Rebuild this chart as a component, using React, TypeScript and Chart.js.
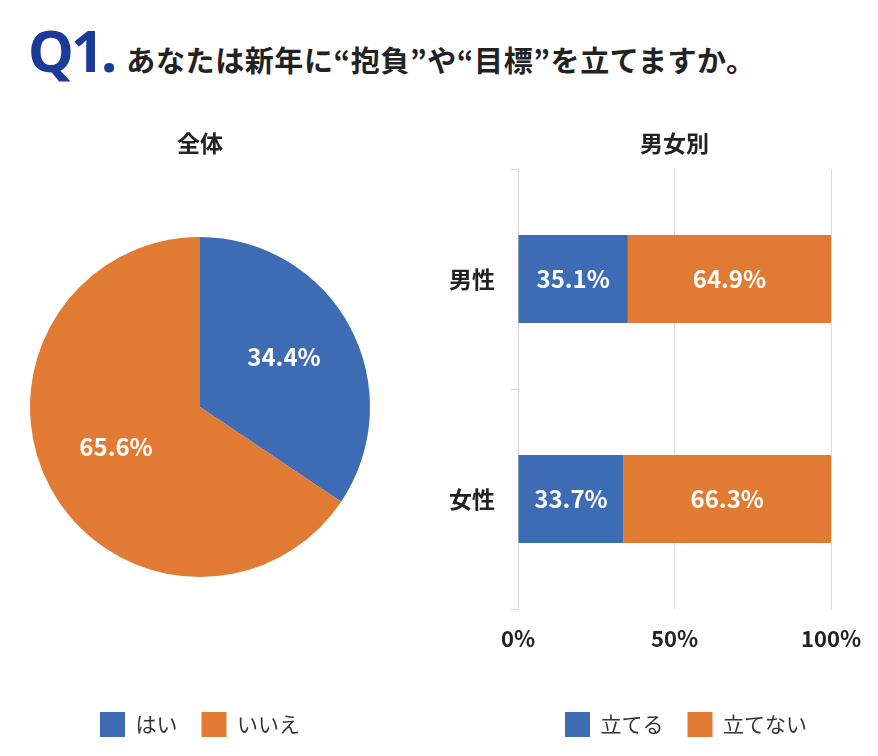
import React, { useEffect, useRef } from 'react';
import { Chart, registerables } from 'chart.js';

Chart.register(...registerables);

const pieLabels = ['はい', 'いいえ'];
const pieValues = [34.4, 65.6];
const barCategories = ['男性', '女性'];
const seriesNames = ['立てる', '立てない'];
const tateruValues = [35.1, 33.7];
const tatenaiValues = [64.9, 66.3];
const xTickValues = [0, 50, 100];

const BLUE = '#3E6CB4';
const ORANGE = '#E17B34';
const FONT = '"Noto Sans CJK JP", "Noto Sans", sans-serif';

const pieLabelPlugin = {
  id: 'pieLabels',
  afterDatasetsDraw(chart: any) {
    const ctx = chart.ctx;
    const meta = chart.getDatasetMeta(0);
    ctx.save();
    ctx.fillStyle = '#ffffff';
    ctx.font = `bold 24px ${FONT}`;
    ctx.textAlign = 'center';
    ctx.textBaseline = 'middle';
    meta.data.forEach((arc: any, i: number) => {
      const p = arc.getProps(['x', 'y', 'startAngle', 'endAngle', 'outerRadius'], true);
      const mid = (p.startAngle + p.endAngle) / 2;
      const r = p.outerRadius * 0.56;
      ctx.fillText(pieValues[i].toFixed(1) + '%', p.x + Math.cos(mid) * r, p.y + Math.sin(mid) * r - 5);
    });
    ctx.restore();
  },
};

const barLabelPlugin = {
  id: 'barLabels',
  afterDatasetsDraw(chart: any) {
    const ctx = chart.ctx;
    ctx.save();
    ctx.fillStyle = '#ffffff';
    ctx.font = `bold 24px ${FONT}`;
    ctx.textAlign = 'center';
    ctx.textBaseline = 'middle';
    chart.data.datasets.forEach((ds: any, di: number) => {
      const meta = chart.getDatasetMeta(di);
      meta.data.forEach((bar: any, i: number) => {
        const p = bar.getProps(['x', 'y', 'base'], true);
        ctx.fillText(Number(ds.data[i]).toFixed(1) + '%', (p.x + p.base) / 2, p.y);
      });
    });
    ctx.restore();
  },
};

const titleFont = { family: FONT, size: 23, weight: 'bold' as const };
const legendLabels = {
  font: { family: FONT, size: 21 },
  color: '#333333',
  boxWidth: 25,
  boxHeight: 25,
  padding: 24,
};

export default function App() {
  const pieRef = useRef<HTMLCanvasElement>(null);
  const barRef = useRef<HTMLCanvasElement>(null);

  useEffect(() => {
    const pie = new Chart(pieRef.current as HTMLCanvasElement, {
      type: 'pie',
      data: {
        labels: pieLabels,
        datasets: [
          {
            data: pieValues,
            backgroundColor: [BLUE, ORANGE],
            borderWidth: 0,
          },
        ],
      },
      options: {
        responsive: false,
        animation: false,
        layout: { padding: { left: 30, right: 30, top: 0, bottom: 0 } },
        plugins: {
          title: {
            display: true,
            text: '全体',
            color: '#222222',
            font: titleFont,
            padding: { top: 29.2, bottom: 80.2 },
          },
          legend: {
            position: 'bottom',
            labels: legendLabels,
            title: {
              display: true,
              text: ' ',
              font: { size: 1, lineHeight: 1 },
              padding: { top: 110, bottom: 0 },
            },
          },
          tooltip: { enabled: false },
        },
      },
      plugins: [pieLabelPlugin],
    } as any);

    const bar = new Chart(barRef.current as HTMLCanvasElement, {
      type: 'bar',
      data: {
        labels: barCategories,
        datasets: [
          { label: seriesNames[0], data: tateruValues, backgroundColor: BLUE, borderWidth: 0 },
          { label: seriesNames[1], data: tatenaiValues, backgroundColor: ORANGE, borderWidth: 0 },
        ],
      },
      options: {
        indexAxis: 'y',
        responsive: false,
        animation: false,
        datasets: { bar: { categoryPercentage: 0.8, barPercentage: 0.5 } },
        layout: { padding: { left: 0, right: 47, top: 0, bottom: 0 } },
        scales: {
          x: {
            stacked: true,
            min: 0,
            max: 100,
            afterBuildTicks(scale: any) {
              scale.ticks = xTickValues.map((v) => ({ value: v }));
            },
            afterFit(scale: any) {
              scale.height = 42;
            },
            border: { display: false },
            grid: { color: '#dcdcdc', drawTicks: false, lineWidth: 1 },
            ticks: {
              padding: 16,
              color: '#222222',
              font: { family: FONT, size: 22, weight: 'bold' },
              callback: (v: any) => v + '%',
            },
          },
          y: {
            stacked: true,
            afterFit(scale: any) {
              scale.width = 98;
            },
            border: { display: true, color: '#d6d6d6' },
            grid: { drawOnChartArea: false, drawTicks: true, tickLength: 7, color: '#d6d6d6' },
            ticks: {
              padding: 16,
              color: '#222222',
              font: { family: FONT, size: 23, weight: 'bold' },
            },
          },
        },
        plugins: {
          title: {
            display: true,
            fullSize: false,
            text: '男女別',
            color: '#222222',
            font: titleFont,
            padding: { top: 29.2, bottom: 12.2 },
          },
          legend: {
            position: 'bottom',
            align: 'end',
            labels: legendLabels,
            title: {
              display: true,
              text: ' ',
              font: { size: 1, lineHeight: 1 },
              padding: { top: 36, bottom: 0 },
            },
          },
          tooltip: { enabled: false },
        },
      },
      plugins: [barLabelPlugin],
    } as any);

    return () => {
      pie.destroy();
      bar.destroy();
    };
  }, []);

  return (
    <div
      style={{
        position: 'fixed',
        left: 0,
        top: 0,
        width: 878,
        height: 756,
        background: '#ffffff',
        overflow: 'hidden',
      }}
    >
      <div
        style={{
          position: 'absolute',
          left: 28,
          top: 10,
          display: 'flex',
          alignItems: 'baseline',
          whiteSpace: 'nowrap',
        }}
      >
        <span
          style={{
            fontFamily: '"Noto Sans", sans-serif',
            fontWeight: 700,
            fontSize: 58,
            color: '#1B3A9A',
            letterSpacing: -3,
          }}
        >
          Q1.
        </span>
        <span
          style={{
            fontFamily: FONT,
            fontWeight: 700,
            fontSize: 29,
            color: '#222222',
            letterSpacing: 0.6,
            marginLeft: 12,
          }}
        >
          あなたは新年に“抱負”や“目標”を立てますか。
        </span>
      </div>
      <canvas
        ref={pieRef}
        width={400}
        height={647}
        style={{ position: 'absolute', left: 0, top: 100, width: 400, height: 647 }}
      />
      <canvas
        ref={barRef}
        width={458}
        height={647}
        style={{ position: 'absolute', left: 420, top: 100, width: 458, height: 647 }}
      />
    </div>
  );
}
